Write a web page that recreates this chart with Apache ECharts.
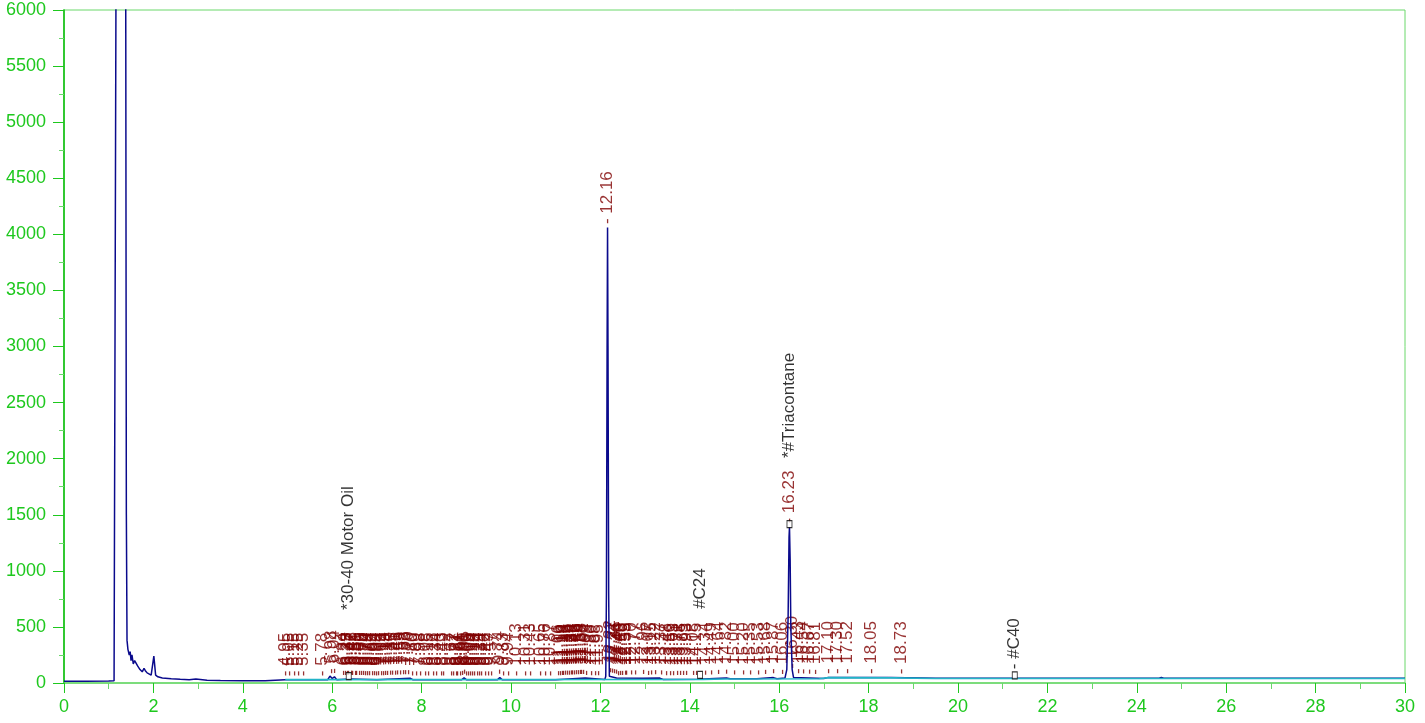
<!DOCTYPE html>
<html>
<head>
<meta charset="utf-8">
<script src="https://cdn.jsdelivr.net/npm/echarts@6/dist/echarts.min.js"></script>
<style>
  html, body { margin: 0; padding: 0; background: #fff; }
  #chart { width: 1425px; height: 723px; }
</style>
</head>
<body>
<div id="chart"></div>
<script>
// detector trace (minutes, response)
const traceTimes = [
  0, 0.5, 1.0, 1.12, 1.15, 1.165, 1.38, 1.395, 1.41, 1.43, 1.46, 1.48, 1.5, 1.52, 1.55, 1.58,
  1.62, 1.65, 1.7, 1.75, 1.79, 1.82, 1.86, 1.9, 1.95, 1.99, 2.01, 2.03, 2.05, 2.1, 2.2, 2.4,
  2.6, 2.8, 2.95, 3.05, 3.2, 3.5, 4.0, 4.5, 4.95, 5.5, 5.9, 5.95, 6.0, 6.05, 6.1, 6.4,
  7.0, 7.75, 7.8, 8.9, 8.95, 9.0, 9.7, 9.75, 9.8, 11.0, 11.66, 11.7, 12.1,
  12.12, 12.135, 12.15, 12.16, 12.17, 12.185, 12.2, 12.36, 12.4, 12.96, 13.0, 13.33, 13.4,
  14.2, 14.23, 14.3, 14.82, 14.9, 15.5, 15.87, 15.95, 16.13, 16.17, 16.2, 16.22, 16.23,
  16.245, 16.26, 16.29, 16.32, 17.0, 17.1, 18.5, 19.5, 24.5, 24.55, 24.6, 30
];
const traceValues = [
  15, 16, 18, 20, 35, 6500, 6500, 1500, 380, 300, 250, 280, 200, 250, 170, 200,
  190, 150, 120, 100, 130, 110, 90, 75, 70, 80, 240, 250, 70, 55, 45, 38,
  33, 30, 35, 32, 25, 22, 20, 20, 28, 28, 30, 62, 40, 55, 30, 35,
  30, 42, 30, 30, 45, 30, 30, 48, 30, 30, 44, 30, 32,
  60, 800, 3000, 4060, 3000, 800, 60, 44, 32, 42, 32, 44, 32,
  33, 45, 35, 45, 38, 38, 48, 38, 45, 120, 600, 1300, 1390,
  1100, 500, 120, 50, 40, 50, 48, 42, 42, 50, 42, 42
];

// fitted baseline drawn over the trace
const baseTimes = [4.95, 14.3, 14.8, 16.9, 17.1, 18.6, 19.5, 30];
const baseValues = [30, 32, 36, 38, 48, 46, 40, 40];

// integrated peak retention times
const peakTimes = [
  4.95, 5.05, 5.15, 5.25, 5.35, 5.78, 5.98, 6.04,
  6.24, 6.29, 6.33, 6.37, 6.42, 6.46, 6.51, 6.55, 6.60, 6.65, 6.70, 6.74, 6.79, 6.84, 6.89,
  6.94, 6.99, 7.04, 7.09, 7.14, 7.19, 7.24, 7.30, 7.35, 7.41, 7.46,
  7.53, 7.58, 7.63, 7.70, 7.80, 7.89, 7.98, 8.08, 8.15, 8.26, 8.34, 8.43, 8.49,
  8.67, 8.72, 8.77, 8.81, 8.86, 8.91, 8.95, 9.00, 9.05, 9.09, 9.14, 9.19, 9.24, 9.29,
  9.34, 9.42, 9.49, 9.57, 9.74, 9.83, 9.94, 10.13, 10.31, 10.43, 10.65, 10.76, 10.87,
  11.06, 11.10, 11.14, 11.18, 11.22, 11.26, 11.30, 11.34, 11.38, 11.42, 11.46, 11.50, 11.54,
  11.58, 11.62, 11.69, 11.80, 11.88, 11.95, 12.16,
  12.22, 12.27, 12.31, 12.36, 12.40, 12.45, 12.50, 12.55, 12.59, 12.70, 12.77, 12.96, 13.07,
  13.15, 13.22, 13.37, 13.48, 13.56, 13.63, 13.71, 13.78, 13.85, 13.93,
  14.08, 14.15, 14.34, 14.49, 14.64, 14.82, 15.00, 15.20, 15.35, 15.53, 15.68, 15.87, 16.06,
  16.23, 16.30, 16.43, 16.54, 16.67, 16.81, 17.10, 17.30, 17.52, 18.05, 18.73
];

// identified compounds
const namedTimes = [6.37, 14.23, 16.23, 21.27];
const namedLabels = ['*30-40 Motor Oil', '#C24', '*#Triacontane', '#C40'];

const FONT = 'Liberation Sans';
const GREEN = '#1ec81e';
const LIGHT_GREEN = '#6ad86a';

const valueAt = (t) => {
  for (let i = 1; i < traceTimes.length; i++) {
    if (t <= traceTimes[i]) {
      const t0 = traceTimes[i - 1], t1 = traceTimes[i];
      const v0 = traceValues[i - 1], v1 = traceValues[i];
      return v0 + (v1 - v0) * (t - t0) / (t1 - t0);
    }
  }
  return traceValues[traceValues.length - 1];
};

const trace = traceTimes.map((t, i) => [t, traceValues[i]]);
const baseline = baseTimes.map((t, i) => [t, baseValues[i]]);
const peaks = peakTimes.map((t) => [t, valueAt(t)]);
const named = namedTimes.map((t, i) => {
  const lifted = peakTimes.some((p) => Math.abs(p - t) < 0.1);
  return {
    value: [t, valueAt(t)],
    label: {
      formatter: lifted ? namedLabels[i] : '- ' + namedLabels[i],
      distance: lifted ? 62 : 2
    }
  };
});

const chart = echarts.init(document.getElementById('chart'));
chart.setOption({
  animation: false,
  backgroundColor: '#fff',
  grid: {
    left: 64, right: 20, top: 10, bottom: 40,
    show: true, borderColor: LIGHT_GREEN, borderWidth: 1
  },
  xAxis: {
    type: 'value', min: 0, max: 30, interval: 2,
    axisLine: { show: true, onZero: false, lineStyle: { color: LIGHT_GREEN, width: 1.5 } },
    axisTick: { show: true, length: 10, lineStyle: { color: GREEN } },
    minorTick: { show: true, splitNumber: 2, length: 6, lineStyle: { color: LIGHT_GREEN } },
    axisLabel: { color: GREEN, fontSize: 18, fontFamily: FONT, margin: 15 },
    splitLine: { show: false }
  },
  yAxis: [
    {
      type: 'value', min: 0, max: 6000, interval: 500,
      axisLine: { show: true, onZero: false, lineStyle: { color: LIGHT_GREEN, width: 1.5 } },
      axisTick: { show: true, length: 11, lineStyle: { color: GREEN } },
      minorTick: { show: true, splitNumber: 2, length: 5, lineStyle: { color: LIGHT_GREEN } },
      axisLabel: {
        color: GREEN, fontSize: 18, fontFamily: FONT, margin: 18,
        formatter: (v) => String(v)
      },
      splitLine: { show: false }
    },
    {
      type: 'value', min: 0, max: 6000, position: 'right',
      axisLine: { show: true, lineStyle: { color: '#18c018', width: 1.5 } },
      axisTick: { show: false },
      axisLabel: { show: false },
      splitLine: { show: false }
    }
  ],
  series: [
    {
      type: 'scatter',
      z: 2,
      data: peaks,
      symbol: 'circle',
      symbolSize: 1,
      itemStyle: { color: 'transparent' },
      label: {
        show: true,
        position: 'top',
        distance: 3,
        rotate: 90,
        align: 'left',
        verticalAlign: 'middle',
        color: '#800000',
        fontSize: 17,
        fontFamily: FONT,
        formatter: (p) => '- ' + p.value[0].toFixed(2)
      }
    },
    {
      type: 'line',
      z: 5,
      data: trace,
      showSymbol: false,
      clip: true,
      lineStyle: { color: '#0a0a8c', width: 1.5 }
    },
    {
      type: 'line',
      z: 6,
      data: baseline,
      showSymbol: false,
      lineStyle: { color: '#22b4c8', width: 1.6 }
    },
    {
      type: 'scatter',
      z: 7,
      data: named,
      symbol: 'rect',
      symbolSize: [5, 7],
      symbolOffset: [0, -3],
      itemStyle: { color: '#fff', borderColor: '#000', borderWidth: 1 },
      label: {
        show: true,
        position: 'top',
        rotate: 90,
        align: 'left',
        verticalAlign: 'middle',
        color: '#000',
        fontSize: 17,
        fontFamily: FONT
      }
    }
  ]
});
</script>
</body>
</html>
